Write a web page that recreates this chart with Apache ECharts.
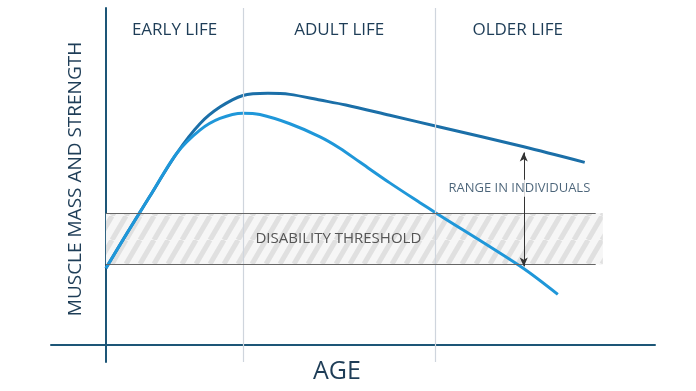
<!DOCTYPE html>
<html>
<head>
<meta charset="utf-8">
<script src="https://cdn.jsdelivr.net/npm/echarts@6/dist/echarts.min.js"></script>
<style>
html,body{margin:0;padding:0;background:#fff;}
#chart{width:696px;height:391px;}
</style>
</head>
<body>
<div id="chart"></div>
<script>
// ---- data ----
var sectionNames = ['EARLY LIFE', 'ADULT LIFE', 'OLDER LIFE'];
var sectionBounds = [0, 25, 60, 90];
var upperAge = [0, 4, 8, 12.88, 17.12, 20.77, 24.95, 29.5, 33.5, 39.0, 43.7, 51.7, 60.8, 76.1, 87.2];
var upperVal = [21.5, 31.8, 41.8, 53.9, 62.3, 67.0, 70.3, 70.9, 70.6, 69.0, 67.6, 64.7, 61.4, 55.8, 51.4];
var lowerAge = [0, 4, 8, 12.88, 17.12, 20.77, 24.95, 28.05, 33.5, 39.0, 42.6, 46.3, 51.7, 57.2, 60.1, 75.6, 82.3];
var lowerVal = [21.5, 31.8, 41.8, 53.9, 60.5, 63.8, 65.3, 64.9, 62.3, 58.6, 55.4, 51.4, 45.6, 40.0, 37.1, 21.9, 14.1];
var thresholdBand = [22.6, 37.1];
var thresholdExtent = [0, 90.5];
var thresholdLabel = 'DISABILITY THRESHOLD';
var rangeAge = 76.1;
var rangeSpan = [22.0, 54.2];
var rangeLabel = 'RANGE IN INDIVIDUALS';
var rangeLabelY = 44.1;
var xName = 'AGE';
var yName = 'MUSCLE MASS AND STRENGTH';

function zip(a, b) { return a.map(function (v, i) { return [v, b[i]]; }); }

// hatch pattern
var pc = document.createElement('canvas');
pc.width = 14; pc.height = 24;
var g = pc.getContext('2d');
g.fillStyle = '#f6f6f6';
g.fillRect(0, 0, 14, 24);
g.strokeStyle = '#e0e0e0';
g.lineWidth = 5;
[-14, 0, 14].forEach(function (o) {
  g.beginPath(); g.moveTo(o, 24); g.lineTo(o + 14, 0); g.stroke();
});

var FONT = 'Open Sans, Lato, sans-serif';
var TEXT = '#1e3d57';

var sectionLabels = sectionNames.map(function (n, i) {
  return {
    coord: [(sectionBounds[i] + sectionBounds[i + 1]) / 2, 88.7],
    value: n
  };
});

var chart = echarts.init(document.getElementById('chart'));
chart.setOption({
  animation: false,
  grid: { left: 51, right: 41, top: 8, bottom: 29, containLabel: false, outerBoundsMode: 'none' },
  xAxis: {
    type: 'value', min: -10, max: 100,
    axisLine: { onZero: true, lineStyle: { color: '#1d5677', width: 2 } },
    axisTick: { show: false }, axisLabel: { show: false }, splitLine: { show: false },
    name: xName, nameLocation: 'middle', nameGap: -3,
    nameTextStyle: { fontFamily: FONT, fontSize: 25, color: TEXT, padding: [0, 32, 0, 0] }
  },
  yAxis: {
    type: 'value', min: -5, max: 95,
    axisLine: { onZero: true, lineStyle: { color: '#1d5677', width: 2 } },
    axisTick: { show: false }, axisLabel: { show: false }, splitLine: { show: false },
    name: yName, nameLocation: 'middle', nameGap: -34,
    nameTextStyle: { fontFamily: FONT, fontSize: 19, color: TEXT, padding: [0, 0, 0, 12] }
  },
  series: [
    {
      type: 'line', data: [], z: 1, silent: true,
      markArea: {
        silent: true,
        itemStyle: { color: { image: pc, repeat: 'repeat' }, borderWidth: 0 },
        label: { show: true, position: 'inside', formatter: thresholdLabel, offset: [-16, 0],
          fontFamily: FONT, fontSize: 15, color: '#555' },
        data: [[{ coord: [thresholdExtent[0], thresholdBand[1]] }, { coord: [thresholdExtent[1], thresholdBand[0]] }]]
      },
      markLine: {
        silent: true, symbol: 'none',
        label: { show: false },
        data: [
          { xAxis: sectionBounds[1], lineStyle: { color: '#cfd5dd', width: 1.2, type: 'solid' } },
          { xAxis: sectionBounds[2], lineStyle: { color: '#cfd5dd', width: 1.2, type: 'solid' } },
          [{ coord: [thresholdExtent[0], thresholdBand[1]], lineStyle: { color: '#666', width: 1.2, type: 'solid' } }, { coord: [thresholdExtent[1] - 1.3, thresholdBand[1]] }],
          [{ coord: [thresholdExtent[0], thresholdBand[0]], lineStyle: { color: '#666', width: 1.2, type: 'solid' } }, { coord: [thresholdExtent[1] - 1.3, thresholdBand[0]] }]
        ]
      },
      markPoint: {
        silent: true, symbolSize: 0,
        label: { show: true, position: 'inside', fontFamily: FONT, fontSize: 17, color: TEXT,
          formatter: function (p) { return p.value; } },
        data: sectionLabels
      }
    },
    {
      type: 'line', name: 'upper', data: zip(upperAge, upperVal), z: 3,
      smooth: 0.3, showSymbol: false, symbol: 'none',
      lineStyle: { color: '#1b6fa8', width: 3 }
    },
    {
      type: 'line', name: 'lower', data: zip(lowerAge, lowerVal), z: 4,
      smooth: 0.3, showSymbol: false, symbol: 'none',
      lineStyle: { color: '#1f97d9', width: 3 }
    },
    {
      type: 'line', data: [], z: 5, silent: true,
      markLine: {
        silent: true, symbol: ['arrow', 'arrow'], symbolSize: [6, 9],
        label: { show: false },
        lineStyle: { color: '#333', width: 1, type: 'solid' },
        data: [[{ coord: [rangeAge, rangeSpan[0]] }, { coord: [rangeAge, rangeSpan[1]] }]]
      }
    },
    {
      type: 'scatter', z: 6, silent: true, symbolSize: 0,
      data: [[rangeAge - 0.8, rangeLabelY]],
      label: { show: true, position: 'inside', formatter: rangeLabel,
        fontFamily: FONT, fontSize: 13, color: TEXT, backgroundColor: '#fff', padding: [2, 3] }
    }
  ]
});
</script>
</body>
</html>
